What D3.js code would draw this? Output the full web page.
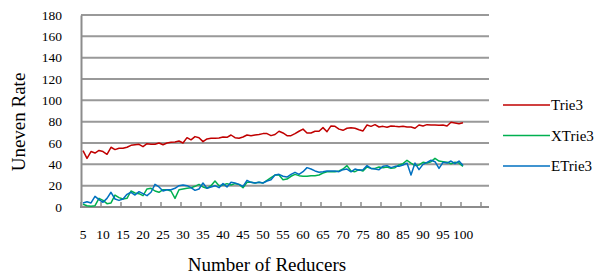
<!DOCTYPE html>
<html>
<head>
<meta charset="utf-8">
<script src="https://cdn.jsdelivr.net/npm/d3@7"></script>
<style>
  body { margin: 0; background: #fff; }
  svg { display: block; }
  text { font-family: "Liberation Serif", "Times New Roman", serif; fill: #000; }
</style>
</head>
<body>
<svg id="chart" width="601" height="277"></svg>
<script>
// reducers 5..100
var reducers = d3.range(5, 101);

var trie3 = [52.8, 45.6, 52, 50.6, 53, 52, 49.4, 56, 53.8, 55,
  55, 56, 57.8, 58.4, 58.8, 56.6, 59.4, 58.8, 58.8, 60,
  58.4, 60, 60.6, 61, 61.9, 60, 65, 63, 66, 65,
  61.3, 63.8, 64.4, 64.4, 64.7, 65.6, 65.3, 67.5, 65, 64.4,
  65.6, 67.5, 66.9, 67.5, 68, 68.8, 68.8, 66.9, 68, 71,
  69.4, 66.9, 66.9, 68.8, 71, 73, 69.4, 69.4, 71, 71,
  74.4, 70.6, 76, 75.6, 73, 71.9, 73.8, 74.4, 73.8, 72.5,
  71.3, 76.9, 75.6, 77.2, 75, 75.6, 74.7, 76, 75.6, 75.3,
  75.6, 75, 75, 73.8, 76.9, 76, 77.2, 76.9, 76.9, 76.6,
  76.9, 76, 79.4, 78.8, 78.1, 79];

var xtrie3 = [2.5, 1.2, 0.6, 1.2, 8.1, 6.2, 3.1, 3.8, 11.2, 8.8,
  7.5, 8.1, 15, 13.1, 12.5, 10.6, 16.9, 17.5, 15, 13.8,
  16.2, 16.2, 15, 8.1, 16.2, 16.9, 17.5, 18.1, 19.4, 21.2,
  18.8, 17.5, 20, 24.4, 20, 20.6, 21.9, 20.6, 21.9, 21.2,
  18.1, 23.1, 23.1, 22.5, 23.1, 22.5, 25, 27.5, 30, 30,
  25.6, 26.2, 28.8, 30.6, 29.4, 28.8, 28.8, 29.4, 29.4, 30,
  31.9, 33.1, 33.1, 33.1, 33.8, 35.6, 38.8, 33.8, 33.1, 35,
  33.8, 37.5, 36.2, 36.2, 37.5, 36.9, 37.5, 36.2, 36.9, 39.4,
  40.6, 43.8, 41.2, 38.8, 39.4, 41.9, 41.2, 42.5, 45.6, 43.1,
  42.5, 41.9, 40.6, 41.9, 41.2, 38.1];

var etrie3 = [3.8, 5, 3.8, 10, 6.9, 4.4, 8.1, 13.8, 7.5, 6.2,
  7.5, 11.9, 13.8, 11.2, 14.4, 12.5, 10.6, 13.8, 21.2, 18.8,
  15, 16.2, 16.2, 17.5, 20, 20.6, 20, 18.1, 15.6, 16.9,
  22.5, 17.5, 18.8, 20, 18.1, 21.9, 18.8, 23.1, 22.5, 21.2,
  19.4, 25, 23.1, 22.5, 23.1, 22.5, 24.4, 25.6, 30, 30.6,
  28.8, 28.1, 30.6, 32.5, 30.6, 33.1, 36.9, 35.6, 33.8, 32.5,
  33.1, 33.8, 33.8, 33.8, 33.1, 35, 35.6, 33, 35.6, 34.4,
  35, 38.8, 36.2, 35.6, 35, 38.1, 38.8, 36.9, 38.1, 38.1,
  39.4, 41.2, 30, 41.2, 35, 40, 41.9, 43.8, 42.5, 36.2,
  41.9, 41.2, 43.1, 40.6, 43.1, 38.8];

var series = [
  { id: "Trie3", values: trie3, color: "#c00000" },
  { id: "XTrie3", values: xtrie3, color: "#00b050" },
  { id: "ETrie3", values: etrie3, color: "#0070c0" }
];

var xTickLabels = d3.range(5, 101, 5);
var yTicks = d3.range(0, 181, 20);

var svg = d3.select("#chart");

var plotLeft = 81, plotRight = 489, plotTop = 15, plotBottom = 207;

// category axis: 102 slots (5..106), points in slot centres
var x = d3.scaleLinear().domain([4.5, 106.5]).range([plotLeft, plotRight]);
var y = d3.scaleLinear().domain([0, 180]).range([plotBottom, plotTop]);

// gridlines
svg.append("g")
  .selectAll("line")
  .data(yTicks.filter(function(d) { return d > 0; }))
  .enter().append("line")
  .attr("x1", plotLeft).attr("x2", plotRight)
  .attr("y1", function(d) { return y(d); })
  .attr("y2", function(d) { return y(d); })
  .attr("stroke", "#999")
  .attr("stroke-width", 2);

// y axis
var yAxis = svg.append("g")
  .attr("transform", "translate(" + plotLeft + ",0)")
  .call(d3.axisLeft(y).tickValues(yTicks).tickSize(0).tickPadding(19));
yAxis.select(".domain").attr("stroke", "#8c8c8c").attr("stroke-width", 2);
yAxis.selectAll("text")
  .style("font-size", "13.5px")
  .style("font-family", "'Liberation Serif', serif")
  .attr("fill", "#000");

// x axis with inside tick marks between categories
var xAxis = svg.append("g")
  .attr("transform", "translate(0," + plotBottom + ")");
xAxis.append("line")
  .attr("x1", plotLeft - 1).attr("x2", plotRight)
  .attr("stroke", "#8c8c8c")
  .attr("stroke-width", 2);
xAxis.selectAll(".tick")
  .data(d3.range(4.5, 107, 5))
  .enter().append("line")
  .attr("x1", function(d) { return x(d); })
  .attr("x2", function(d) { return x(d); })
  .attr("y1", 0).attr("y2", -5)
  .attr("stroke", "#8c8c8c")
  .attr("stroke-width", 1.5);
xAxis.selectAll(".lbl")
  .data(xTickLabels)
  .enter().append("text")
  .attr("x", function(d) { return x(d); })
  .attr("y", 32)
  .attr("text-anchor", "middle")
  .style("font-size", "13.5px")
  .text(function(d) { return d; });

// axis titles
svg.append("text")
  .attr("x", 267).attr("y", 271)
  .attr("text-anchor", "middle")
  .style("font-size", "19px")
  .text("Number of Reducers");

svg.append("text")
  .attr("transform", "translate(25,122) rotate(-90)")
  .attr("text-anchor", "middle")
  .style("font-size", "19px")
  .text("Uneven Rate");

// lines
var line = d3.line()
  .x(function(d, i) { return x(reducers[i]); })
  .y(function(d) { return y(d); });

svg.append("g")
  .selectAll("path")
  .data(series)
  .enter().append("path")
  .attr("d", function(d) { return line(d.values); })
  .attr("fill", "none")
  .attr("stroke", function(d) { return d.color; })
  .attr("stroke-width", 1.5)
  .attr("stroke-linejoin", "round");

// legend
var legend = svg.append("g")
  .selectAll("g")
  .data(series)
  .enter().append("g")
  .attr("transform", function(d, i) { return "translate(503," + (105 + i * 30.5) + ")"; });
legend.append("line")
  .attr("x1", 0).attr("x2", 47)
  .attr("stroke", function(d) { return d.color; })
  .attr("stroke-width", 1.5);
legend.append("text")
  .attr("x", 48).attr("y", 5)
  .style("font-size", "15px")
  .text(function(d) { return d.id; });
</script>
</body>
</html>
